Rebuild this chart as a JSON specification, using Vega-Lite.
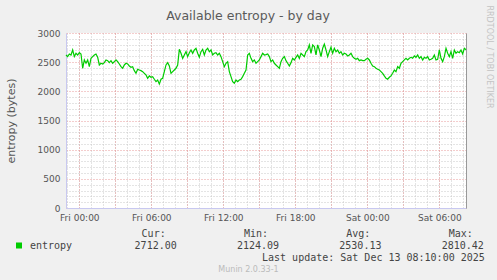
{
  "$schema": "https://vega.github.io/schema/vega-lite/v6.json",
  "width": 400,
  "height": 175,
  "autosize": {"type": "none"},
  "padding": {"left": 66, "top": 33, "right": 31, "bottom": 72},
  "background": "#f0f0f0",
  "title": {"text": "Available entropy - by day", "anchor": "middle", "frame": "group", "baseline": "alphabetic", "offset": -15, "dx": -18, "dy": 13, "font": "DejaVu Sans", "fontSize": 12.5, "fontWeight": "normal", "color": "#5a5a5a"},
  "config": {
    "view": {"fill": "white", "stroke": null},
    "axis": {"labelFont": "DejaVu Sans", "labelFontSize": 9, "labelColor": "#555555", "tickSize": 0}
  },
  "data": {"values": [
    {"t":"2025-12-11T22:53:20","v":2623},{"t":"2025-12-11T23:01:40","v":2595},{"t":"2025-12-11T23:10:00","v":2640},{"t":"2025-12-11T23:18:20","v":2623},
    {"t":"2025-12-11T23:26:40","v":2709},{"t":"2025-12-11T23:35:00","v":2595},{"t":"2025-12-11T23:43:20","v":2652},{"t":"2025-12-11T23:51:40","v":2623},
    {"t":"2025-12-12T00:00:00","v":2663},{"t":"2025-12-12T00:08:20","v":2640},{"t":"2025-12-12T00:16:40","v":2395},{"t":"2025-12-12T00:25:00","v":2538},
    {"t":"2025-12-12T00:33:20","v":2481},{"t":"2025-12-12T00:41:40","v":2538},{"t":"2025-12-12T00:50:00","v":2423},{"t":"2025-12-12T00:58:20","v":2566},
    {"t":"2025-12-12T01:06:40","v":2595},{"t":"2025-12-12T01:15:00","v":2623},{"t":"2025-12-12T01:23:20","v":2640},{"t":"2025-12-12T01:31:40","v":2583},
    {"t":"2025-12-12T01:40:00","v":2452},{"t":"2025-12-12T01:48:20","v":2481},{"t":"2025-12-12T01:56:40","v":2469},{"t":"2025-12-12T02:05:00","v":2492},
    {"t":"2025-12-12T02:13:20","v":2538},{"t":"2025-12-12T02:21:40","v":2526},{"t":"2025-12-12T02:30:00","v":2492},{"t":"2025-12-12T02:38:20","v":2526},
    {"t":"2025-12-12T02:46:40","v":2481},{"t":"2025-12-12T02:55:00","v":2509},{"t":"2025-12-12T03:03:20","v":2538},{"t":"2025-12-12T03:11:40","v":2509},
    {"t":"2025-12-12T03:20:00","v":2469},{"t":"2025-12-12T03:28:20","v":2423},{"t":"2025-12-12T03:36:40","v":2395},{"t":"2025-12-12T03:45:00","v":2452},
    {"t":"2025-12-12T03:53:20","v":2481},{"t":"2025-12-12T04:01:40","v":2469},{"t":"2025-12-12T04:10:00","v":2435},{"t":"2025-12-12T04:18:20","v":2412},
    {"t":"2025-12-12T04:26:40","v":2423},{"t":"2025-12-12T04:35:00","v":2355},{"t":"2025-12-12T04:43:20","v":2309},{"t":"2025-12-12T04:51:40","v":2378},
    {"t":"2025-12-12T05:00:00","v":2366},{"t":"2025-12-12T05:08:20","v":2355},{"t":"2025-12-12T05:16:40","v":2338},{"t":"2025-12-12T05:25:00","v":2309},
    {"t":"2025-12-12T05:33:20","v":2281},{"t":"2025-12-12T05:41:40","v":2224},{"t":"2025-12-12T05:50:00","v":2264},{"t":"2025-12-12T05:58:20","v":2241},
    {"t":"2025-12-12T06:06:40","v":2252},{"t":"2025-12-12T06:15:00","v":2207},{"t":"2025-12-12T06:23:20","v":2167},{"t":"2025-12-12T06:31:40","v":2195},
    {"t":"2025-12-12T06:40:00","v":2124},{"t":"2025-12-12T06:48:20","v":2207},{"t":"2025-12-12T06:56:40","v":2224},{"t":"2025-12-12T07:05:00","v":2338},
    {"t":"2025-12-12T07:13:20","v":2452},{"t":"2025-12-12T07:21:40","v":2492},{"t":"2025-12-12T07:30:00","v":2435},{"t":"2025-12-12T07:38:20","v":2309},
    {"t":"2025-12-12T07:46:40","v":2338},{"t":"2025-12-12T07:55:00","v":2366},{"t":"2025-12-12T08:03:20","v":2395},{"t":"2025-12-12T08:11:40","v":2452},
    {"t":"2025-12-12T08:20:00","v":2720},{"t":"2025-12-12T08:28:20","v":2652},{"t":"2025-12-12T08:36:40","v":2566},{"t":"2025-12-12T08:45:00","v":2623},
    {"t":"2025-12-12T08:53:20","v":2680},{"t":"2025-12-12T09:01:40","v":2595},{"t":"2025-12-12T09:10:00","v":2663},{"t":"2025-12-12T09:18:20","v":2709},
    {"t":"2025-12-12T09:26:40","v":2652},{"t":"2025-12-12T09:35:00","v":2709},{"t":"2025-12-12T09:43:20","v":2738},{"t":"2025-12-12T09:51:40","v":2652},
    {"t":"2025-12-12T10:00:00","v":2583},{"t":"2025-12-12T10:08:20","v":2680},{"t":"2025-12-12T10:16:40","v":2720},{"t":"2025-12-12T10:25:00","v":2623},
    {"t":"2025-12-12T10:33:20","v":2709},{"t":"2025-12-12T10:41:40","v":2738},{"t":"2025-12-12T10:50:00","v":2680},{"t":"2025-12-12T10:58:20","v":2709},
    {"t":"2025-12-12T11:06:40","v":2623},{"t":"2025-12-12T11:15:00","v":2652},{"t":"2025-12-12T11:23:20","v":2663},{"t":"2025-12-12T11:31:40","v":2623},
    {"t":"2025-12-12T11:40:00","v":2652},{"t":"2025-12-12T11:48:20","v":2595},{"t":"2025-12-12T11:56:40","v":2509},{"t":"2025-12-12T12:05:00","v":2423},
    {"t":"2025-12-12T12:13:20","v":2481},{"t":"2025-12-12T12:21:40","v":2509},{"t":"2025-12-12T12:30:00","v":2338},{"t":"2025-12-12T12:38:20","v":2252},
    {"t":"2025-12-12T12:46:40","v":2167},{"t":"2025-12-12T12:55:00","v":2138},{"t":"2025-12-12T13:03:20","v":2195},{"t":"2025-12-12T13:11:40","v":2167},
    {"t":"2025-12-12T13:20:00","v":2195},{"t":"2025-12-12T13:28:20","v":2207},{"t":"2025-12-12T13:36:40","v":2252},{"t":"2025-12-12T13:45:00","v":2309},
    {"t":"2025-12-12T13:53:20","v":2366},{"t":"2025-12-12T14:01:40","v":2623},{"t":"2025-12-12T14:10:00","v":2652},{"t":"2025-12-12T14:18:20","v":2566},
    {"t":"2025-12-12T14:26:40","v":2509},{"t":"2025-12-12T14:35:00","v":2538},{"t":"2025-12-12T14:43:20","v":2481},{"t":"2025-12-12T14:51:40","v":2509},
    {"t":"2025-12-12T15:00:00","v":2538},{"t":"2025-12-12T15:08:20","v":2595},{"t":"2025-12-12T15:16:40","v":2652},{"t":"2025-12-12T15:25:00","v":2623},
    {"t":"2025-12-12T15:33:20","v":2630},{"t":"2025-12-12T15:41:40","v":2640},{"t":"2025-12-12T15:50:00","v":2595},{"t":"2025-12-12T15:58:20","v":2509},
    {"t":"2025-12-12T16:06:40","v":2538},{"t":"2025-12-12T16:15:00","v":2481},{"t":"2025-12-12T16:23:20","v":2452},{"t":"2025-12-12T16:31:40","v":2423},
    {"t":"2025-12-12T16:40:00","v":2395},{"t":"2025-12-12T16:48:20","v":2509},{"t":"2025-12-12T16:56:40","v":2566},{"t":"2025-12-12T17:05:00","v":2595},
    {"t":"2025-12-12T17:13:20","v":2526},{"t":"2025-12-12T17:21:40","v":2481},{"t":"2025-12-12T17:30:00","v":2435},{"t":"2025-12-12T17:38:20","v":2492},
    {"t":"2025-12-12T17:46:40","v":2566},{"t":"2025-12-12T17:55:00","v":2538},{"t":"2025-12-12T18:03:20","v":2583},{"t":"2025-12-12T18:11:40","v":2623},
    {"t":"2025-12-12T18:20:00","v":2566},{"t":"2025-12-12T18:28:20","v":2652},{"t":"2025-12-12T18:36:40","v":2623},{"t":"2025-12-12T18:45:00","v":2595},
    {"t":"2025-12-12T18:53:20","v":2680},{"t":"2025-12-12T19:01:40","v":2709},{"t":"2025-12-12T19:10:00","v":2795},{"t":"2025-12-12T19:18:20","v":2652},
    {"t":"2025-12-12T19:26:40","v":2795},{"t":"2025-12-12T19:35:00","v":2766},{"t":"2025-12-12T19:43:20","v":2623},{"t":"2025-12-12T19:51:40","v":2795},
    {"t":"2025-12-12T20:00:00","v":2709},{"t":"2025-12-12T20:08:20","v":2595},{"t":"2025-12-12T20:16:40","v":2738},{"t":"2025-12-12T20:25:00","v":2810},
    {"t":"2025-12-12T20:33:20","v":2709},{"t":"2025-12-12T20:41:40","v":2595},{"t":"2025-12-12T20:50:00","v":2680},{"t":"2025-12-12T20:58:20","v":2755},
    {"t":"2025-12-12T21:06:40","v":2652},{"t":"2025-12-12T21:15:00","v":2738},{"t":"2025-12-12T21:23:20","v":2680},{"t":"2025-12-12T21:31:40","v":2709},
    {"t":"2025-12-12T21:40:00","v":2652},{"t":"2025-12-12T21:48:20","v":2680},{"t":"2025-12-12T21:56:40","v":2623},{"t":"2025-12-12T22:05:00","v":2652},
    {"t":"2025-12-12T22:13:20","v":2640},{"t":"2025-12-12T22:21:40","v":2606},{"t":"2025-12-12T22:30:00","v":2623},{"t":"2025-12-12T22:38:20","v":2652},
    {"t":"2025-12-12T22:46:40","v":2595},{"t":"2025-12-12T22:55:00","v":2566},{"t":"2025-12-12T23:03:20","v":2549},{"t":"2025-12-12T23:11:40","v":2566},
    {"t":"2025-12-12T23:20:00","v":2526},{"t":"2025-12-12T23:28:20","v":2538},{"t":"2025-12-12T23:36:40","v":2526},{"t":"2025-12-12T23:45:00","v":2526},
    {"t":"2025-12-12T23:53:20","v":2549},{"t":"2025-12-13T00:01:40","v":2566},{"t":"2025-12-13T00:10:00","v":2538},{"t":"2025-12-13T00:18:20","v":2481},
    {"t":"2025-12-13T00:26:40","v":2435},{"t":"2025-12-13T00:35:00","v":2423},{"t":"2025-12-13T00:43:20","v":2395},{"t":"2025-12-13T00:51:40","v":2378},
    {"t":"2025-12-13T01:00:00","v":2366},{"t":"2025-12-13T01:08:20","v":2338},{"t":"2025-12-13T01:16:40","v":2309},{"t":"2025-12-13T01:25:00","v":2264},
    {"t":"2025-12-13T01:33:20","v":2224},{"t":"2025-12-13T01:41:40","v":2207},{"t":"2025-12-13T01:50:00","v":2241},{"t":"2025-12-13T01:58:20","v":2264},
    {"t":"2025-12-13T02:06:40","v":2309},{"t":"2025-12-13T02:15:00","v":2366},{"t":"2025-12-13T02:23:20","v":2338},{"t":"2025-12-13T02:31:40","v":2423},
    {"t":"2025-12-13T02:40:00","v":2395},{"t":"2025-12-13T02:48:20","v":2481},{"t":"2025-12-13T02:56:40","v":2509},{"t":"2025-12-13T03:05:00","v":2538},
    {"t":"2025-12-13T03:13:20","v":2566},{"t":"2025-12-13T03:21:40","v":2538},{"t":"2025-12-13T03:30:00","v":2566},{"t":"2025-12-13T03:38:20","v":2583},
    {"t":"2025-12-13T03:46:40","v":2566},{"t":"2025-12-13T03:55:00","v":2606},{"t":"2025-12-13T04:03:20","v":2583},{"t":"2025-12-13T04:11:40","v":2623},
    {"t":"2025-12-13T04:20:00","v":2566},{"t":"2025-12-13T04:28:20","v":2595},{"t":"2025-12-13T04:36:40","v":2538},{"t":"2025-12-13T04:45:00","v":2583},
    {"t":"2025-12-13T04:53:20","v":2566},{"t":"2025-12-13T05:01:40","v":2595},{"t":"2025-12-13T05:10:00","v":2538},{"t":"2025-12-13T05:18:20","v":2549},
    {"t":"2025-12-13T05:26:40","v":2566},{"t":"2025-12-13T05:35:00","v":2623},{"t":"2025-12-13T05:43:20","v":2538},{"t":"2025-12-13T05:51:40","v":2549},
    {"t":"2025-12-13T06:00:00","v":2709},{"t":"2025-12-13T06:08:20","v":2566},{"t":"2025-12-13T06:16:40","v":2509},{"t":"2025-12-13T06:25:00","v":2595},
    {"t":"2025-12-13T06:33:20","v":2738},{"t":"2025-12-13T06:41:40","v":2652},{"t":"2025-12-13T06:50:00","v":2595},{"t":"2025-12-13T06:58:20","v":2680},
    {"t":"2025-12-13T07:06:40","v":2566},{"t":"2025-12-13T07:15:00","v":2709},{"t":"2025-12-13T07:23:20","v":2652},{"t":"2025-12-13T07:31:40","v":2680},
    {"t":"2025-12-13T07:40:00","v":2663},{"t":"2025-12-13T07:48:20","v":2709},{"t":"2025-12-13T07:56:40","v":2640},{"t":"2025-12-13T08:05:00","v":2738},
    {"t":"2025-12-13T08:13:20","v":2712}
  ]},
  "layer": [
    {
      "mark": {"type": "line", "opacity": 0},
      "encoding": {
        "x": {"field": "t", "type": "temporal",
          "scale": {"nice": false},
          "axis": {"orient": "bottom", "tickCount": 33, "labels": false, "ticks": false, "domain": false, "grid": true, "gridColor": "#c8c8c8", "gridDash": [1, 2],
            "title": "Munin 2.0.33-1", "titleFont": "DejaVu Sans", "titleFontSize": 8, "titleFontWeight": "normal", "titleColor": "#bbbbbb", "titleX": 182, "titleY": 63, "titleAlign": "center", "titleBaseline": "alphabetic"}},
        "y": {"field": "v", "type": "quantitative",
          "scale": {"domain": [0, 3000], "nice": false, "zero": false},
          "axis": {"orient": "right", "values": [100,200,300,400,600,700,800,900,1100,1200,1300,1400,1600,1700,1800,1900,2100,2200,2300,2400,2600,2700,2800,2900], "labels": false, "ticks": false, "domain": true, "domainColor": "#999999", "grid": true, "gridColor": "#c8c8c8", "gridDash": [1, 2],
            "title": "RRDTOOL / TOBI OETIKER", "titleAngle": 90, "titleX": 20, "titleY": 23.5, "titleAlign": "center", "titleBaseline": "alphabetic", "titleFont": "DejaVu Sans", "titleFontSize": 8, "titleFontWeight": "normal", "titleColor": "#c4c4c4"}}
      }
    },
    {
      "mark": {"type": "line", "strokeWidth": 1.2},
      "encoding": {
        "x": {"field": "t", "type": "temporal",
          "scale": {"nice": false},
          "axis": {"orient": "bottom", "tickCount": 11, "format": "%a %H:%M", "labelExpr": "hours(datum.value) % 6 == 0 ? datum.label : ''", "labelOverlap": false, "labelFlush": false, "labelPadding": 5, "ticks": false, "domainColor": "#c8c8f0", "grid": true, "gridColor": "#e89a9a", "gridDash": [1, 2],
            "title": ["\u2800Cur:\u00a0\u00a0\u00a0\u00a0\u00a0\u00a0\u00a0\u00a0\u00a0\u00a0\u00a0\u00a0\u00a0Min:\u00a0\u00a0\u00a0\u00a0\u00a0\u00a0\u00a0\u00a0\u00a0\u00a0\u00a0\u00a0\u00a0Avg:\u00a0\u00a0\u00a0\u00a0\u00a0\u00a0\u00a0\u00a0\u00a0\u00a0\u00a0\u00a0\u00a0Max:", "2712.00\u00a0\u00a0\u00a0\u00a0\u00a0\u00a0\u00a0\u00a0\u00a0\u00a02124.09\u00a0\u00a0\u00a0\u00a0\u00a0\u00a0\u00a0\u00a0\u00a0\u00a02530.13\u00a0\u00a0\u00a0\u00a0\u00a0\u00a0\u00a0\u00a0\u00a0\u00a02810.42", "\u2800\u00a0\u00a0\u00a0\u00a0\u00a0\u00a0\u00a0\u00a0\u00a0\u00a0\u00a0\u00a0\u00a0\u00a0\u00a0\u00a0\u00a0\u00a0\u00a0\u00a0Last update: Sat Dec 13 08:10:00 2025"],
            "titleFont": "DejaVu Sans Mono", "titleFontSize": 10, "titleFontWeight": "normal", "titleColor": "#444444", "titleAlign": "left", "titleAnchor": "start", "titleX": 68.1, "titleY": 28.5, "titleBaseline": "alphabetic", "titleLineHeight": 12}},
        "y": {"field": "v", "type": "quantitative",
          "scale": {"domain": [0, 3000], "nice": false, "zero": false},
          "axis": {"orient": "left", "values": [0, 500, 1000, 1500, 2000, 2500, 3000], "format": "d", "labelPadding": 6, "ticks": false, "domainColor": "#c8c8f0", "grid": true, "gridColor": "#e89a9a", "gridDash": [1, 2],
            "title": "entropy (bytes)", "titleFont": "DejaVu Sans", "titleFontSize": 11, "titleFontWeight": "normal", "titleColor": "#555555", "titleX": -52, "titleBaseline": "alphabetic"}},
        "color": {"datum": "entropy", "type": "nominal", "scale": {"range": ["#00cc00"]},
          "legend": {"orient": "none", "legendX": -52, "legendY": 207.5, "title": null, "padding": 0, "symbolType": "square", "symbolSize": 36, "symbolFillColor": "#00cc00", "symbolStrokeColor": "#00cc00", "symbolStrokeWidth": 0, "labelFont": "DejaVu Sans Mono", "labelFontSize": 10, "labelColor": "#444444", "labelOffset": 6}}
      }
    }
  ],
  "resolve": {"scale": {"x": "independent", "y": "independent"}}
}
